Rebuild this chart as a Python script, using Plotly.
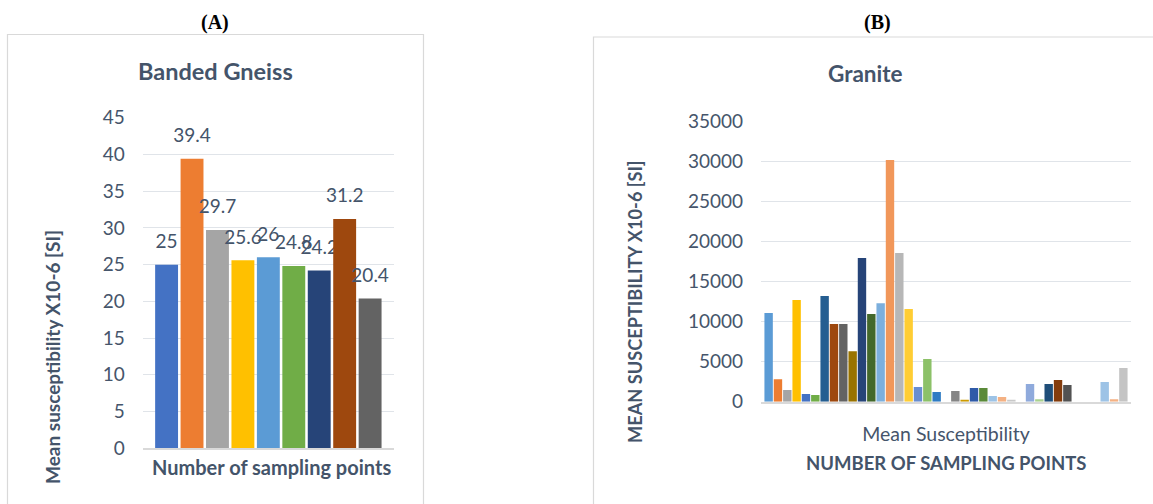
import plotly.graph_objects as go

W, H = 1153, 504

# ---------------- data ----------------
gneiss_points = [f"Point {i}" for i in range(1, 10)]
gneiss_values = [25, 39.4, 29.7, 25.6, 26, 24.8, 24.2, 31.2, 20.4]
gneiss_category = ["Sampling points"]

granite_points = [f"Point {i}" for i in range(1, 40)]
granite_values = [11100, 2800, 1450, 12700, 950, 850,
                  13200, 9700, 9700, 6300, 17950, 10950,
                  12300, 30200, 18600, 11600, 1850, 5350,
                  1200, 0, 1350, 200, 1700, 1700,
                  700, 600, 200, 0, 2200, 300,
                  2200, 2700, 2100, 0, 0, 0,
                  2450, 300, 4200]
granite_category = ["Mean Susceptibility"]

gneiss_ticks = [0, 5, 10, 15, 20, 25, 30, 35, 40, 45]
granite_ticks = [0, 5000, 10000, 15000, 20000, 25000, 30000, 35000]

# ---------------- styles ----------------
gneiss_colors = ["#4472C4", "#ED7D31", "#A5A5A5", "#FFC000", "#5B9BD5",
                 "#70AD47", "#264478", "#9E480E", "#636363"]
granite_colors = ["#5B9BD5", "#ED7D31", "#A5A5A5", "#FFC000", "#4472C4", "#70AD47",
                  "#255E91", "#9E480E", "#636363", "#997300", "#264478", "#43682B",
                  "#7CAFDD", "#F1975A", "#B7B7B7", "#FFCD33", "#698ED0", "#8CC168",
                  "#2E7BC4", "#C55A11", "#858585", "#CC9A00", "#2F5AA8", "#5A8A39",
                  "#9DC3E6", "#F4B183", "#C9C9C9", "#FFD966", "#8FAADC", "#A9D18E",
                  "#1F4E79", "#843C0C", "#525252", "#7F6000", "#203864", "#385723",
                  "#9DC3E6", "#F4B183", "#C4C4C4"]

TXT = "#44546A"
TICK = "#46556B"
GRID = "#E0E4E9"
FONT = "Lato"

fig = go.Figure()

for name, v, c in zip(gneiss_points, gneiss_values, gneiss_colors):
    fig.add_trace(go.Bar(
        x=gneiss_category, y=[v], name=name, marker_color=c,
        marker_line_width=0,
        text=[f"<span style='font-size:19px'>{v:g}</span><br>\u00a0"],
        textposition="outside", constraintext="none", cliponaxis=False,
        textfont=dict(family=FONT, size=9, color=TXT),
        xaxis="x", yaxis="y", showlegend=False, hoverinfo="y"))

for name, v, c in zip(granite_points, granite_values, granite_colors):
    fig.add_trace(go.Bar(
        x=granite_category, y=[v], name=name, marker_color=c,
        marker_line_width=0,
        xaxis="x2", yaxis="y2", showlegend=False, hoverinfo="y"))

def px(x):
    return x / W

def py(y):
    return 1 - y / H

ann = []
def add_text(text, x, y, size, bold=False, angle=0, family=FONT, color=TXT):
    ann.append(dict(text=f"<b>{text}</b>" if bold else text,
                    x=px(x), y=py(y), xref="paper", yref="paper",
                    xanchor="center", yanchor="middle", showarrow=False,
                    textangle=angle, font=dict(family=family, size=size, color=color)))

add_text("(A)", 215, 23, 20, bold=True, family="Liberation Serif", color="#000000")
add_text("(B)", 877, 23, 20, bold=True, family="Liberation Serif", color="#000000")
add_text("Banded Gneiss", 216, 71, 23.5, bold=True)
add_text("Granite", 865, 73, 22.5, bold=True)
add_text("Mean susceptibility X10-6 [SI]", 52, 357, 19, bold=True, angle=-90)
add_text("MEAN SUSCEPTIBILITY X10-6 [SI]", 635, 302, 18.2, bold=True, angle=-90)
add_text("Number of sampling points", 271, 467, 20, bold=True)
add_text("NUMBER OF SAMPLING POINTS", 946, 463, 18.5, bold=True)

shapes = [
    dict(type="rect", xref="paper", yref="paper", x0=px(7.5), x1=px(423.5),
         y0=py(520), y1=py(34.5), line=dict(color="#D9D9D9", width=1.2), layer="below"),
    dict(type="rect", xref="paper", yref="paper", x0=px(593.5), x1=px(1170),
         y0=py(520), y1=py(37), line=dict(color="#D9D9D9", width=1.2), layer="below"),
]

fig.update_layout(
    template="none",
    width=W, height=H, margin=dict(l=0, r=0, t=0, b=0, pad=0, autoexpand=False),
    autosize=False,
    paper_bgcolor="white", plot_bgcolor="white",
    barmode="group", bargap=0.016, bargroupgap=0.1,
    font=dict(family=FONT, color=TXT),
    xaxis=dict(domain=[px(142.7), px(394)], anchor="y", range=[-0.54, 0.54],
               automargin=False,
               showticklabels=False, ticks="", showgrid=False, zeroline=False,
               showline=True, linecolor="#D9D9D9", linewidth=1.5),
    yaxis=dict(domain=[py(448.3), py(117.7)], anchor="x", range=[0, 45],
               automargin=False,
               tickvals=gneiss_ticks, showgrid=True, gridcolor=GRID, gridwidth=1.3,
               zeroline=False, showline=False, ticks="",
               tickfont=dict(family=FONT, size=19, color=TICK), ticklabelstandoff=17),
    xaxis2=dict(domain=[px(761), px(1131)], anchor="y2", automargin=False,
                ticks="", showgrid=False, zeroline=False,
                showline=True, linecolor="#D9D9D9", linewidth=1.5,
                tickfont=dict(family=FONT, size=19.5, color=TICK), ticklabelstandoff=14),
    yaxis2=dict(domain=[py(401.7), py(121.7)], anchor="x2", range=[0, 35000],
                automargin=False,
                tickvals=granite_ticks, tickformat="d",
                showgrid=True, gridcolor=GRID, gridwidth=1.3,
                zeroline=False, showline=False, ticks="",
                tickfont=dict(family=FONT, size=19, color=TICK), ticklabelstandoff=17),
    annotations=ann, shapes=shapes,
)

fig.write_html("out.html")
